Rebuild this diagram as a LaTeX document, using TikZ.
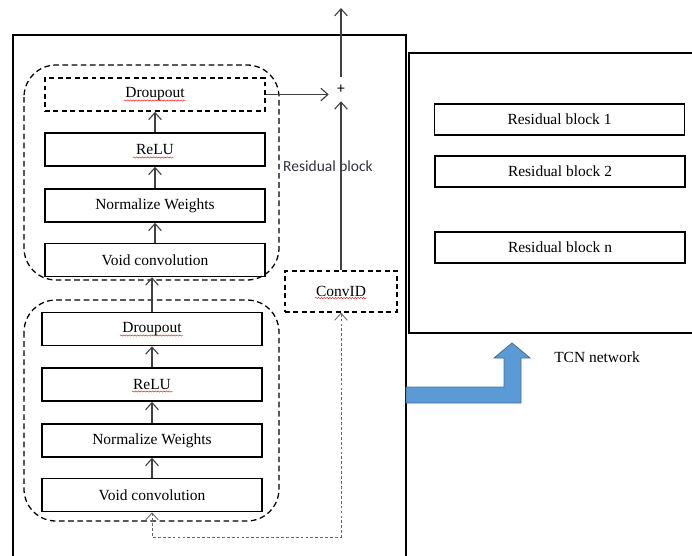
\documentclass[tikz,border=0pt]{standalone}
\usepackage{fontspec}
\setmainfont{Liberation Serif}
\newfontfamily\calibri{Carlito}
\usetikzlibrary{arrows.meta,decorations.pathmorphing}
\definecolor{arrowgray}{RGB}{64,64,64}
\definecolor{tcnblue}{RGB}{91,155,213}
\definecolor{tcnedge}{RGB}{65,113,156}
\definecolor{labelnavy}{RGB}{50,50,62}

\begin{document}
\begin{tikzpicture}[x=0.025cm,y=-0.025cm,
    layer/.style={draw,line width=1pt,minimum width=5.5cm,minimum height=0.83cm,inner sep=0pt,font=\fontsize{11}{13}\selectfont},
    dlayer/.style={layer,dash pattern=on 3.5pt off 2.5pt},
    block/.style={layer,minimum width=6.25cm,minimum height=0.78cm},
    group/.style={draw,line width=0.9pt,dash pattern=on 4pt off 2.5pt,rounded corners=0.8cm},
    flow/.style={draw=arrowgray,line width=0.8pt,-{Straight Barb[length=5pt,width=9pt]}},
    skip/.style={draw=arrowgray!80,line width=0.6pt,dash pattern=on 2pt off 1.5pt,{Straight Barb[length=5pt,width=9pt]}-{Straight Barb[length=5pt,width=9pt]}},
    spell/.style={draw=red,line width=0.3pt,decorate,decoration={snake,amplitude=0.45pt,segment length=2pt}}]
    \useasboundingbox (0,0) rectangle (692,555);

    \draw[line width=1pt] (13,560) -- (13,35) -- (406,35) -- (406,560);
    \draw[line width=1pt] (700,53) -- (409,53) -- (409,333) -- (700,333);

    \draw[group] (24,65) rectangle (279,280);
    \draw[group] (24,300) rectangle (279,521);

    \node[dlayer] (drop1) at (155,94.5) {Droupout};
    \node[layer] (relu1) at (155,149.5) {ReLU};
    \node[layer] (norm1) at (155,205.5) {Normalize Weights};
    \node[layer] (void1) at (155,260) {Void convolution};

    \node[layer] (drop2) at (152,329) {Droupout};
    \node[layer] (relu2) at (152,384.5) {ReLU};
    \node[layer] (norm2) at (152,440.5) {Normalize Weights};
    \node[layer] (void2) at (152,495) {Void convolution};

    \node[dlayer,minimum width=2.8cm,minimum height=1.02cm] (conv) at (341,291.5) {ConvID};
    \node[minimum size=0.6cm,inner sep=0pt,font=\calibri\fontsize{11}{12}\selectfont] (plus) at (341,89) {+};
    \coordinate (out) at (341,8);
    \node[font=\calibri\fontsize{11}{13}\selectfont,text=labelnavy] (rlabel) at (328,166) {Residual block};

    % spell-check marks
    \draw[spell] (124,100.5) -- (186,100.5);
    \draw[spell] (133,157.5) -- (174,157.5);
    \draw[spell] (120,335.5) -- (183,335.5);
    \draw[spell] (132,391.5) -- (173,391.5);
    \draw[spell] (315,298) -- (367,298);

    \draw[flow] (relu1) -- (drop1);
    \draw[flow] (norm1) -- (relu1);
    \draw[flow] (void1) -- (norm1);
    \draw[flow] (drop2.north) -- (drop2.north |- void1.south);
    \draw[flow] (relu2) -- (drop2);
    \draw[flow] (norm2) -- (relu2);
    \draw[flow] (void2) -- (norm2);
    \draw[flow] (drop1.east) -- (drop1.east -| plus.west);
    \draw[flow] (conv.north) -- (plus.south);
    \draw[flow] (plus.north) -- (out);
    \coordinate (inL) at (152,537);
    \coordinate (inR) at (341,537);
    \draw[skip] (void2.south) -- (inL) -- (inR) -- (conv.south);

    \node[block] (rb1) at (559.5,119.5) {Residual block 1};
    \node[block] (rb2) at (560,171.5) {Residual block 2};
    \node[block] (rbn) at (560,247.5) {Residual block n};
    \node[font=\fontsize{11}{13}\selectfont] (tcn) at (597,357) {TCN network};

    \filldraw[fill=tcnblue,draw=tcnedge,line width=0.6pt] (406,387) -- (504,387) -- (504,358) -- (494,358) -- (512,343)
        -- (530,358) -- (521,358) -- (521,403) -- (406,403) -- cycle;
\end{tikzpicture}
\end{document}
